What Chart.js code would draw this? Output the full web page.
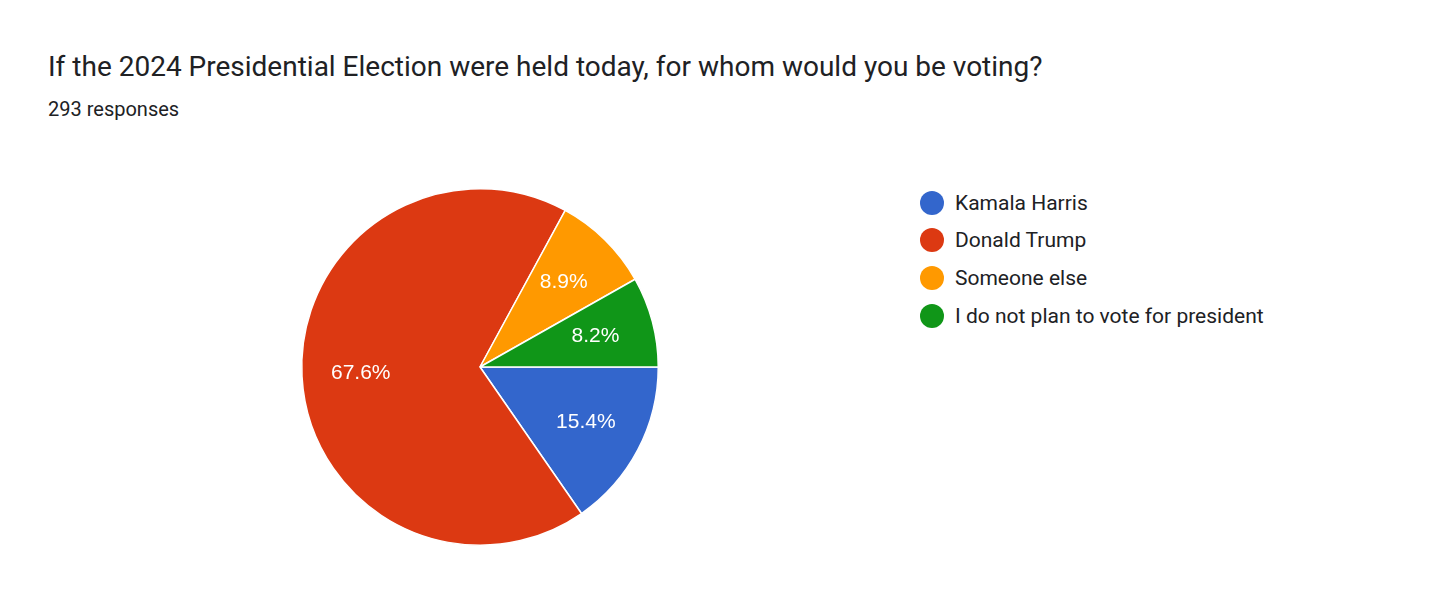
<!DOCTYPE html>
<html><head><meta charset="utf-8">
<script src="https://cdn.jsdelivr.net/npm/chart.js@4"></script>
<style>
body{margin:0;background:#fff;font-family:Roboto,sans-serif;color:#202124;width:1456px;height:613px;position:relative;overflow:hidden}
#title{position:absolute;left:48px;top:50px;font-size:28px}
#sub{position:absolute;left:48px;top:97px;font-size:20px}
#wrap{position:absolute;left:290px;top:177px;width:380px;height:380px}
#legend{position:absolute;left:920px;top:184px;font-size:21px}
#legend div{height:37.6px;display:flex;align-items:center}
#legend span{display:inline-block;width:24px;height:24px;border-radius:50%;margin-right:11px}
</style></head><body>
<div id="title">If the 2024 Presidential Election were held today, for whom would you be voting?</div>
<div id="sub">293 responses</div>
<div id="wrap"><canvas id="c"></canvas></div>
<div id="legend"></div>
<script>
const labels = ["Kamala Harris", "Donald Trump", "Someone else", "I do not plan to vote for president"];
const counts = [45, 198, 26, 24];
const colors = ["#3366cc", "#dc3912", "#ff9900", "#109618"];

const leg = document.getElementById("legend");
labels.forEach((l, i) => {
  const d = document.createElement("div");
  d.innerHTML = '<span style="background:' + colors[i] + '"></span>' + l;
  leg.appendChild(d);
});

const total = counts.reduce((a, b) => a + b, 0);
const pctLabels = {
  id: "pctLabels",
  afterDatasetsDraw(chart) {
    const ctx = chart.ctx;
    ctx.save();
    ctx.fillStyle = "#fff";
    ctx.font = "21px 'Liberation Sans', Arial";
    ctx.textAlign = "center";
    ctx.textBaseline = "middle";
    chart.getDatasetMeta(0).data.forEach((arc, i) => {
      const mid = (arc.startAngle + arc.endAngle) / 2;
      const r = arc.outerRadius * 0.67;
      ctx.fillText((counts[i] / total * 100).toFixed(1) + "%", arc.x + Math.cos(mid) * r, arc.y + Math.sin(mid) * r);
    });
    ctx.restore();
  }
};

new Chart(document.getElementById("c"), {
  type: "pie",
  data: { labels: labels, datasets: [{ data: counts, backgroundColor: colors, borderColor: "#fff", borderWidth: 1.5 }] },
  options: {
    responsive: true, maintainAspectRatio: false, animation: false, rotation: 90,
    layout: { padding: 11 },
    plugins: { legend: { display: false }, tooltip: { enabled: false } }
  },
  plugins: [pctLabels]
});
</script>
</body></html>
